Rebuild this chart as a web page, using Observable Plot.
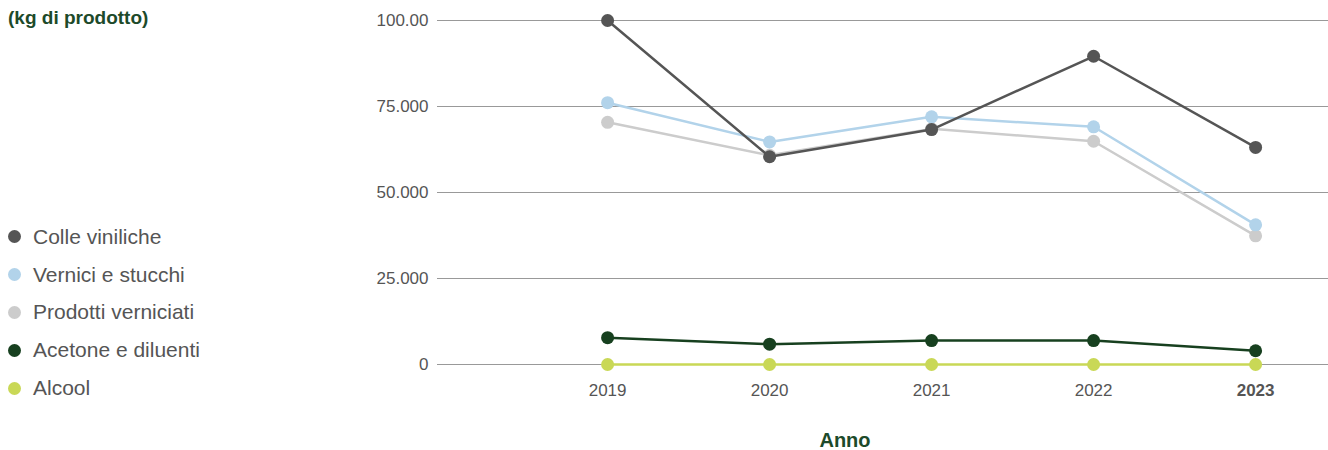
<!DOCTYPE html>
<html>
<head>
<meta charset="utf-8">
<script src="https://cdn.jsdelivr.net/npm/d3@7"></script>
<script src="https://cdn.jsdelivr.net/npm/@observablehq/plot@0.6"></script>
<style>
  body { margin: 0; background: #fff; font-family: "Liberation Sans", Arial, sans-serif; }
  #wrap { position: relative; width: 1328px; height: 450px; }
  #chart { position: absolute; left: 0; top: 0; }
  #title { position: absolute; left: 8px; top: 7px; font-size: 19px; font-weight: bold; color: #1d4a2a; }
  #legend { position: absolute; left: 8px; top: 218px; }
  .item { display: flex; align-items: center; height: 37.8px; font-size: 21px; color: #555; }
  .sw { width: 13px; height: 13px; border-radius: 50%; margin-right: 12px; }
  #xlabel { position: absolute; left: 795px; width: 100px; text-align: center; top: 429px; font-size: 20px; font-weight: bold; color: #1d4a2a; }
</style>
</head>
<body>
<div id="wrap">
  <div id="chart"></div>
  <div id="title">(kg di prodotto)</div>
  <div id="legend"></div>
  <div id="xlabel">Anno</div>
</div>
<script>
const years = [2019, 2020, 2021, 2022, 2023];
const seriesNames = ["Colle viniliche", "Vernici e stucchi", "Prodotti verniciati", "Acetone e diluenti", "Alcool"];
const seriesColors = ["#555555", "#b2d3ea", "#cccccc", "#17401f", "#c9d856"];
const colle = [100000, 60400, 68300, 89600, 63100];
const vernici = [76100, 64700, 72000, 69100, 40600];
const prodotti = [70400, 60800, 68500, 64900, 37400];
const acetone = [7800, 5900, 6950, 6950, 4000];
const alcool = [0, 0, 0, 0, 0];
const yTicks = [0, 25000, 50000, 75000, 100000];
const yTickLabels = ["0", "25.000", "50.000", "75.000", "100.00"];
const drawOrder = ["Prodotti verniciati", "Vernici e stucchi", "Colle viniliche", "Alcool", "Acetone e diluenti"];

const valuesBySeries = {
  "Colle viniliche": colle,
  "Vernici e stucchi": vernici,
  "Prodotti verniciati": prodotti,
  "Acetone e diluenti": acetone,
  "Alcool": alcool
};
const data = seriesNames.flatMap(s => years.map((y, i) => ({series: s, year: y, value: valuesBySeries[s][i]})));

const seriesMarks = drawOrder.flatMap(s => {
  const d = data.filter(r => r.series === s);
  return [
    Plot.line(d, {x: "year", y: "value", stroke: "series", strokeWidth: 2.5}),
    Plot.dot(d, {x: "year", y: "value", fill: "series", r: 6.5})
  ];
});

const chart = Plot.plot({
  width: 1328,
  height: 450,
  marginLeft: 437,
  marginRight: 0,
  marginTop: 20,
  marginBottom: 86,
  style: {fontFamily: "'Liberation Sans', Arial, sans-serif", fontSize: "17px", color: "#555", background: "transparent"},
  x: {type: "linear", domain: [2017.95, 2023.45]},
  y: {domain: [0, 100000]},
  color: {domain: seriesNames, range: seriesColors},
  marks: [
    Plot.gridY(yTicks, {stroke: "#999", strokeOpacity: 1, strokeWidth: 1}),
    Plot.axisY(yTicks, {tickSize: 0, tickPadding: 9, label: null, tickFormat: d => yTickLabels[yTicks.indexOf(d)], fill: "#555", fontSize: 17}),
    Plot.axisX(years.slice(0, 4), {tickSize: 0, tickPadding: 19, label: null, tickFormat: "d", fill: "#555", fontSize: 17}),
    Plot.axisX(years.slice(4), {tickSize: 0, tickPadding: 19, label: null, tickFormat: "d", fill: "#555", fontSize: 17, fontWeight: "bold"}),
    ...seriesMarks
  ]
});
document.getElementById("chart").appendChild(chart);

const legend = document.getElementById("legend");
seriesNames.forEach((s, i) => {
  const item = document.createElement("div");
  item.className = "item";
  const sw = document.createElement("span");
  sw.className = "sw";
  sw.style.background = seriesColors[i];
  const t = document.createElement("span");
  t.textContent = s;
  item.appendChild(sw);
  item.appendChild(t);
  legend.appendChild(item);
});
</script>
</body>
</html>
